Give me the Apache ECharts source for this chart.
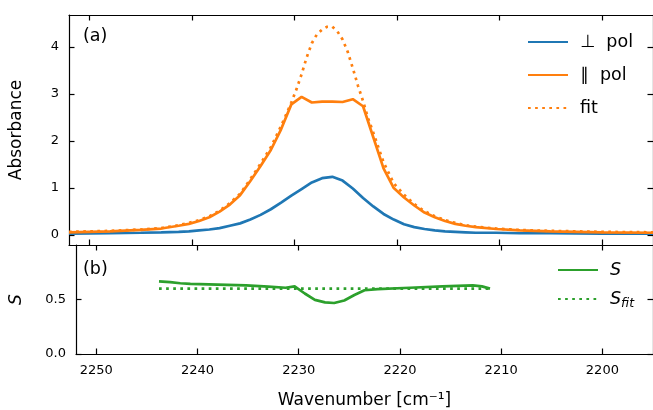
<!DOCTYPE html>
<html>
<head>
<meta charset="utf-8">
<script src="https://cdn.jsdelivr.net/npm/echarts@6/dist/echarts.min.js"></script>
<style>
html,body{margin:0;padding:0;background:#fff;}
#chart{width:653px;height:410px;}
</style>
</head>
<body>
<div id="chart"></div>
<script>
// ---- data ----
const wavenumber = [2252, 2248, 2245, 2243, 2241.3, 2240.3, 2239.3, 2238.3, 2237.3, 2236.3, 2235.3, 2234.3, 2233.3, 2232.3, 2231.3, 2230.3, 2229.3, 2228.3, 2227.3, 2226.3, 2225.3, 2224.3, 2223.3, 2222.3, 2221.3, 2220.3, 2219.3, 2218.3, 2217.3, 2216.3, 2215.3, 2214.3, 2213.3, 2212.3, 2210.3, 2208, 2205, 2200, 2195];
const absPerp = [0.03, 0.04, 0.05, 0.06, 0.07, 0.08, 0.10, 0.12, 0.15, 0.20, 0.25, 0.33, 0.43, 0.55, 0.69, 0.84, 0.98, 1.12, 1.21, 1.24, 1.16, 0.99, 0.79, 0.61, 0.45, 0.33, 0.23, 0.17, 0.13, 0.10, 0.08, 0.07, 0.06, 0.05, 0.05, 0.04, 0.04, 0.03, 0.03];
const absPar = [0.06, 0.08, 0.11, 0.14, 0.20, 0.24, 0.30, 0.38, 0.50, 0.65, 0.85, 1.15, 1.47, 1.81, 2.25, 2.78, 2.94, 2.82, 2.84, 2.84, 2.83, 2.89, 2.74, 2.08, 1.42, 1.00, 0.80, 0.63, 0.48, 0.38, 0.30, 0.24, 0.20, 0.17, 0.13, 0.10, 0.08, 0.06, 0.05];

const fitWavenumber = [2252, 2248, 2245, 2243, 2241.3, 2240.3, 2239.3, 2238.3, 2237.3, 2236.3, 2235.3, 2234.3, 2233.3, 2232.3, 2231.3, 2230.3, 2229.8, 2229.3, 2228.8, 2228.3, 2227.8, 2227.3, 2226.8, 2226.3, 2225.8, 2225.3, 2224.8, 2224.3, 2223.8, 2223.3, 2222.8, 2222.3, 2221.3, 2220.3, 2219.3, 2218.3, 2217.3, 2216.3, 2215.3, 2214.3, 2213.3, 2212.3, 2210.3, 2208, 2205, 2200, 2195];
const absFit = [0.07, 0.09, 0.12, 0.15, 0.21, 0.26, 0.32, 0.40, 0.52, 0.68, 0.88, 1.19, 1.52, 1.87, 2.32, 2.82, 3.10, 3.42, 3.78, 4.08, 4.27, 4.37, 4.43, 4.43, 4.33, 4.16, 3.90, 3.55, 3.18, 2.85, 2.48, 2.18, 1.55, 1.10, 0.86, 0.66, 0.51, 0.40, 0.32, 0.26, 0.21, 0.18, 0.14, 0.11, 0.09, 0.07, 0.06];

const sWavenumber = [2243.8, 2242.7, 2241.7, 2240.7, 2238, 2235.2, 2233, 2231.3, 2230.4, 2229.4, 2228.4, 2227.4, 2226.5, 2225.5, 2224.5, 2223.5, 2222.2, 2219.0, 2215.8, 2212.8, 2211.9, 2211.1];
const sValues = [0.667, 0.660, 0.649, 0.643, 0.637, 0.629, 0.618, 0.608, 0.620, 0.555, 0.497, 0.474, 0.468, 0.491, 0.541, 0.585, 0.596, 0.608, 0.620, 0.629, 0.620, 0.600];
const sFitWavenumber = [2243.8, 2211.1];
const sFitValues = [0.60, 0.60];

const xTicks = [2200, 2210, 2220, 2230, 2240, 2250];
const absTicks = [0, 1, 2, 3, 4];
const sTicks = [0, 0.5];

const names = { perp: '⊥  pol', par: '∥  pol', fit: 'fit', s: 'S', sfit: 'S_fit' };

// ---- chart ----
const pairs = (xs, ys) => xs.map((x, i) => [x, ys[i]]);
const FONT = 'DejaVu Sans';
const BLUE = '#1f77b4', ORANGE = '#ff7f0e', GREEN = '#2ca02c';
const LW = 2.7;
const DOT = [2.7, 4.4];

function xAx(grid, pos, showLabel, extra) {
  return Object.assign({
    type: 'value', gridIndex: grid, position: pos, inverse: true,
    min: 2195, max: 2252,
    axisLine: { show: true, onZero: false, lineStyle: { color: '#000', width: 1.2 } },
    axisTick: { show: true, inside: true, length: 5.5, customValues: xTicks, lineStyle: { color: '#000', width: 1.2 } },
    axisLabel: { show: showLabel, customValues: xTicks, margin: 10, color: '#000', fontSize: 13, fontFamily: FONT, formatter: v => String(v) },
    splitLine: { show: false }
  }, extra || {});
}
function yAx(grid, pos, min, max, ticks, showLabel, extra) {
  return Object.assign({
    type: 'value', gridIndex: grid, position: pos, min: min, max: max,
    axisLine: { show: true, onZero: false, lineStyle: { color: '#000', width: 1.2 } },
    axisTick: { show: true, inside: true, length: 5.5, customValues: ticks, lineStyle: { color: '#000', width: 1.2 } },
    axisLabel: { show: showLabel, customValues: ticks, margin: 10, color: '#000', fontSize: 13, fontFamily: FONT, formatter: v => String(v) },
    splitLine: { show: false }
  }, extra || {});
}

const chart = echarts.init(document.getElementById('chart'), null, { renderer: 'canvas' });
chart.setOption({
  animation: false,
  backgroundColor: '#fff',
  textStyle: { fontFamily: FONT },
  grid: [
    { left: 68, width: 585, top: 15, height: 230 },
    { left: 68, width: 585, top: 245, height: 115 }
  ],
  title: [
    { text: '(a)', left: 78, top: 22, textStyle: { fontSize: 17.5, fontWeight: 'normal', color: '#000', fontFamily: FONT } },
    { text: '(b)', left: 78, top: 255, textStyle: { fontSize: 17.5, fontWeight: 'normal', color: '#000', fontFamily: FONT } }
  ],
  xAxis: [
    xAx(0, 'bottom', false),
    xAx(0, 'top', false),
    xAx(1, 'bottom', true, {
      name: 'Wavenumber [cm⁻¹]', nameLocation: 'middle', nameGap: 38,
      nameTextStyle: { fontSize: 17, color: '#000', fontFamily: FONT }
    }),
    xAx(1, 'top', false)
  ],
  yAxis: [
    yAx(0, 'left', -0.21, 4.68, absTicks, true, {
      name: 'Absorbance', nameLocation: 'middle', nameGap: 44, nameRotate: 90,
      nameTextStyle: { fontSize: 17, color: '#000', fontFamily: FONT }
    }),
    yAx(0, 'right', -0.21, 4.68, absTicks, false),
    yAx(1, 'left', 0, 1.0, sTicks, true, {
      name: 'S', nameLocation: 'middle', nameGap: 51, nameRotate: 90,
      nameTextStyle: { fontSize: 17, color: '#000', fontStyle: 'italic', fontFamily: FONT },
      axisLabel: { show: true, customValues: sTicks, margin: 10, color: '#000', fontSize: 13, fontFamily: FONT, formatter: v => v.toFixed(1) }
    }),
    yAx(1, 'right', 0, 1.0, sTicks, false)
  ],
  legend: [
    {
      data: [names.perp, names.par, names.fit], orient: 'vertical', left: 527, top: 33, padding: 0,
      itemWidth: 40, itemHeight: 14, itemGap: 15,
      itemStyle: { opacity: 0, color: 'rgba(0,0,0,0)', borderWidth: 0 },
      textStyle: { fontSize: 17.5, color: '#000', fontFamily: FONT, padding: [0, 0, 0, 7] }
    },
    {
      data: [names.s, names.sfit], orient: 'vertical', left: 557, top: 261, padding: 0,
      itemWidth: 40, itemHeight: 14, itemGap: 8,
      itemStyle: { opacity: 0, color: 'rgba(0,0,0,0)', borderWidth: 0 },
      formatter: n => n === 'S_fit' ? '{i|S}{sub|fit}' : '{i|S}',
      textStyle: {
        fontSize: 17.5, color: '#000', fontFamily: FONT, padding: [0, 0, 0, 7],
        rich: {
          i: { fontSize: 17.5, fontStyle: 'italic', fontFamily: FONT, color: '#000', lineHeight: 22, verticalAlign: 'middle' },
          sub: { fontSize: 12.5, fontStyle: 'italic', fontFamily: FONT, color: '#000', lineHeight: 22, verticalAlign: 'bottom', padding: [10, 0, 0, 0] }
        }
      }
    }
  ],
  series: [
    { name: names.perp, type: 'line', xAxisIndex: 0, yAxisIndex: 0, data: pairs(wavenumber, absPerp), symbol: 'none', lineStyle: { color: BLUE, width: LW }, itemStyle: { color: BLUE }, z: 3 },
    { name: names.par, type: 'line', xAxisIndex: 0, yAxisIndex: 0, data: pairs(wavenumber, absPar), symbol: 'none', lineStyle: { color: ORANGE, width: LW }, itemStyle: { color: ORANGE }, z: 3 },
    { name: names.fit, type: 'line', xAxisIndex: 0, yAxisIndex: 0, data: pairs(fitWavenumber, absFit), symbol: 'none', lineStyle: { color: ORANGE, width: LW, type: DOT, cap: 'butt' }, itemStyle: { color: ORANGE }, z: 3 },
    { name: names.s, type: 'line', xAxisIndex: 2, yAxisIndex: 2, data: pairs(sWavenumber, sValues), symbol: 'none', lineStyle: { color: GREEN, width: LW }, itemStyle: { color: GREEN }, z: 3 },
    { name: names.sfit, type: 'line', xAxisIndex: 2, yAxisIndex: 2, data: pairs(sFitWavenumber, sFitValues), symbol: 'none', lineStyle: { color: GREEN, width: LW, type: DOT, cap: 'butt' }, itemStyle: { color: GREEN }, z: 3 }
  ]
});
</script>
</body>
</html>
